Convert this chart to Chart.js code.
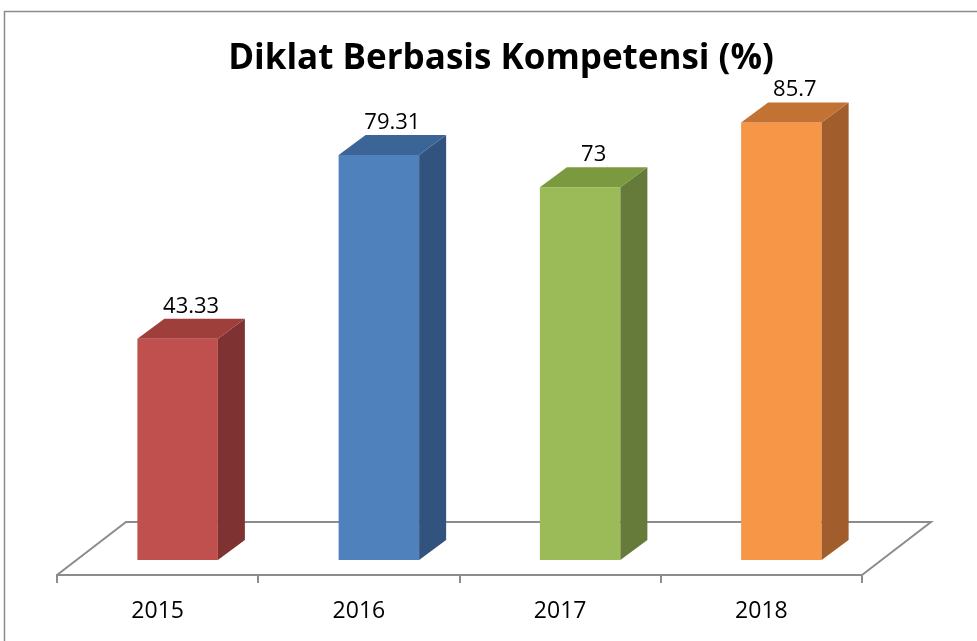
<!DOCTYPE html>
<html>
<head>
<meta charset="utf-8">
<script src="https://cdn.jsdelivr.net/npm/chart.js@4"></script>
<style>
  html, body { margin: 0; padding: 0; background: #fff; }
</style>
</head>
<body>
<canvas id="chart" width="977" height="641"></canvas>
<script>
// Data grafik: persentase diklat berbasis kompetensi per tahun
const years = ['2015', '2016', '2017', '2018'];
const persen = [43.33, 79.31, 73, 85.7];

// warna muka depan, atas, dan samping tiap batang (gaya Excel 3D)
const warnaDepan = ['#c0504d', '#4f81bd', '#9bbb59', '#f79646'];
const warnaAtas = ['#9e3f3c', '#3c6597', '#7b9a40', '#c27334'];
const warnaSisi = ['#7e3231', '#32537d', '#667b3a', '#a15d2b'];

const DX = 27, DY = -20;          // kedalaman batang
const FX = 69, FY = -53;          // kedalaman lantai
const GESER_X = 20, GESER_Y = -15; // batang berdiri sedikit ke belakang di lantai
const abu = '#8c8c8c';
const huruf = "'Open Sans', 'Liberation Sans', sans-serif";

const bingkai = {
  id: 'bingkai',
  beforeDraw(chart) {
    const ctx = chart.ctx;
    ctx.save();
    ctx.strokeStyle = abu;
    ctx.lineWidth = 1.5;
    ctx.strokeRect(4.5, 11.5, chart.width + 10, chart.height + 10);
    ctx.restore();
  }
};

const efek3d = {
  id: 'efek3d',
  beforeDatasetsDraw(chart) {
    const ctx = chart.ctx;
    const { left, right, bottom } = chart.chartArea;
    ctx.save();
    ctx.strokeStyle = abu;
    ctx.lineWidth = 2;
    ctx.beginPath();
    ctx.moveTo(left, bottom);
    ctx.lineTo(left + FX, bottom + FY);
    ctx.lineTo(right + FX, bottom + FY);
    ctx.lineTo(right, bottom);
    ctx.stroke();
    ctx.restore();
    ctx.save();
    ctx.translate(GESER_X, GESER_Y);
  },
  afterDatasetsDraw(chart) {
    const ctx = chart.ctx;
    chart.getDatasetMeta(0).data.forEach((el, i) => {
      const { x, y, base, width } = el.getProps(['x', 'y', 'base', 'width'], true);
      const kiri = x - width / 2, kanan = x + width / 2;

      ctx.fillStyle = warnaSisi[i];
      ctx.beginPath();
      ctx.moveTo(kanan, y);
      ctx.lineTo(kanan + DX, y + DY);
      ctx.lineTo(kanan + DX, base + DY);
      ctx.lineTo(kanan, base);
      ctx.closePath();
      ctx.fill();

      ctx.fillStyle = warnaAtas[i];
      ctx.beginPath();
      ctx.moveTo(kiri, y);
      ctx.lineTo(kiri + DX, y + DY);
      ctx.lineTo(kanan + DX, y + DY);
      ctx.lineTo(kanan, y);
      ctx.closePath();
      ctx.fill();

      ctx.fillStyle = '#000';
      ctx.font = `22px ${huruf}`;
      ctx.textAlign = 'center';
      ctx.textBaseline = 'alphabetic';
      ctx.fillText(String(persen[i]), x + DX / 2, y + DY - 6);
    });
    ctx.restore();
  }
};

new Chart(document.getElementById('chart'), {
  type: 'bar',
  data: {
    labels: years,
    datasets: [{
      data: persen,
      backgroundColor: warnaDepan,
      borderWidth: 0,
      categoryPercentage: 1,
      barPercentage: 0.4,
      clip: false
    }]
  },
  options: {
    responsive: false,
    animation: false,
    devicePixelRatio: 1,
    layout: { padding: { left: 25, right: 0, top: 0, bottom: 0 } },
    plugins: {
      legend: { display: false },
      tooltip: { enabled: false },
      title: {
        display: true,
        text: 'Diklat Berbasis Kompetensi (%)',
        color: '#000',
        font: { family: huruf, size: 35, weight: 'bold' },
        padding: { top: 38, bottom: 10 }
      }
    },
    scales: {
      x: {
        grid: { display: true, drawOnChartArea: false, color: abu, lineWidth: 2, tickLength: 8, offset: true },
        border: { display: true, color: abu, width: 2 },
        ticks: { color: '#000', font: { family: huruf, size: 23 }, padding: 15 },
        afterFit(scale) { scale.height = 66; }
      },
      y: {
        min: 0,
        max: 95,
        grid: { display: false },
        border: { display: false },
        ticks: { display: false },
        afterFit(scale) { scale.width = 32; }
      },
      y2: {
        position: 'right',
        grid: { display: false },
        border: { display: false },
        ticks: { display: false },
        afterFit(scale) { scale.width = 115; }
      }
    }
  },
  plugins: [bingkai, efek3d]
});
</script>
</body>
</html>
